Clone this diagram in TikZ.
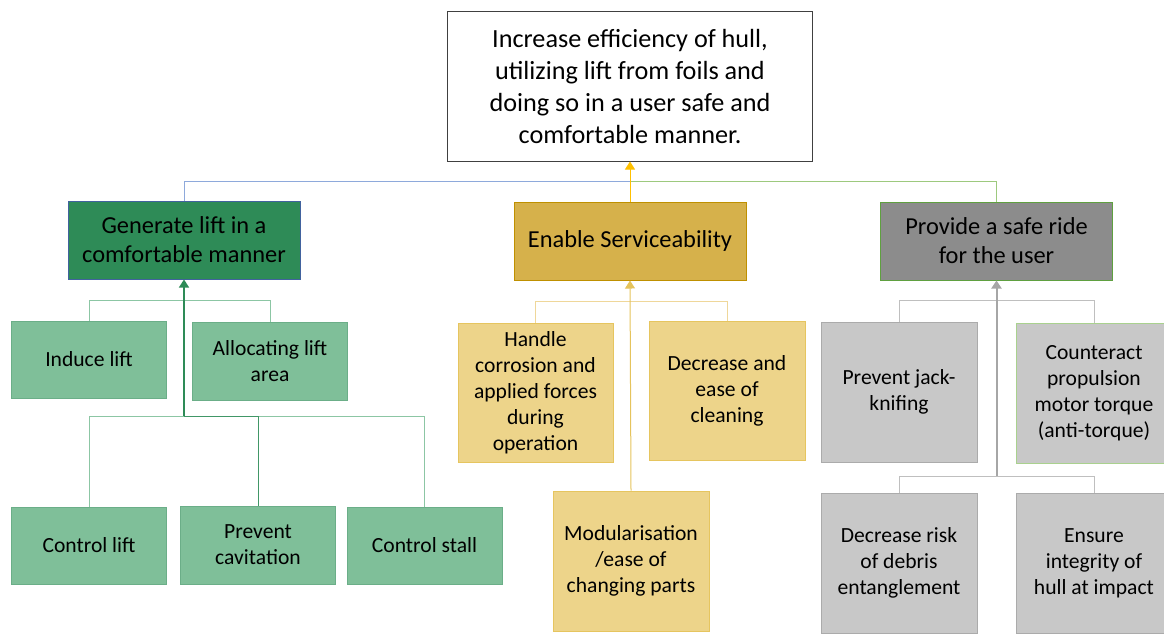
\documentclass[tikz,border=0pt]{standalone}
\usepackage{fontspec}
\setmainfont{Carlito}
\usetikzlibrary{arrows.meta}
\definecolor{topbd}{HTML}{404040}
\definecolor{genfill}{HTML}{2E8B57}
\definecolor{genbd}{HTML}{41629E}
\definecolor{enafill}{HTML}{D6B14B}
\definecolor{enabd}{HTML}{BF9000}
\definecolor{profill}{HTML}{8C8C8C}
\definecolor{probd}{HTML}{5FA040}
\definecolor{lgfill}{HTML}{7FBF99}
\definecolor{lgbd}{HTML}{6BAE88}
\definecolor{lyfill}{HTML}{EDD48A}
\definecolor{lybd}{HTML}{E6C55F}
\definecolor{lgrfill}{HTML}{C8C8C8}
\definecolor{lgrbd}{HTML}{ABABAB}
\definecolor{ctbd}{HTML}{A9D18E}
\definecolor{bluel}{HTML}{8EA9DB}
\definecolor{greenl}{HTML}{9DC97E}
\definecolor{yell}{HTML}{FFC000}
\definecolor{darkg}{HTML}{2E8B57}
\definecolor{lgline}{HTML}{8CC6A4}
\definecolor{goldl}{HTML}{E5C35C}
\definecolor{goldll}{HTML}{EFD79A}
\definecolor{grayl}{HTML}{A6A6A6}
\definecolor{grayll}{HTML}{BFBFBF}
\tikzset{
  box/.style={rectangle, draw, line width=1pt, inner sep=2pt, align=center, text=black},
  topbox/.style={box, fill=white, draw=topbd, minimum width=365pt, minimum height=150pt,
     font=\fontsize{26.2}{32}\selectfont},
  midbox/.style={box, minimum width=232pt, minimum height=78pt, font=\fontsize{24.4}{29}\selectfont},
  leaf/.style={box, minimum width=155pt, font=\fontsize{21.6}{26}\selectfont},
  gleaf/.style={leaf, fill=lgfill, draw=lgbd, minimum height=77pt},
  yleaf/.style={leaf, fill=lyfill, draw=lybd, minimum height=139pt},
  grleaf/.style={leaf, fill=lgrfill, draw=lgrbd, minimum height=140pt},
  conn/.style={line width=1pt},
  arr/.style={line width=1.5pt, -{Triangle[length=8pt,width=10pt]}}
}
\begin{document}
\begin{tikzpicture}[x=1pt,y=-1pt]
\useasboundingbox (0,0) rectangle (1164,633);
\clip (0,0) rectangle (1164,633);
% top
\node[topbox] (top) at (630,86) {Increase efficiency of hull,\\utilizing lift from foils and\\doing so in a user safe and\\comfortable manner.};
% middle
\node[midbox, fill=genfill, draw=genbd] (gen) at (184,240) {Generate lift in a\\comfortable manner};
\node[midbox, fill=enafill, draw=enabd] (ena) at (630,241) {Enable Serviceability};
\node[midbox, fill=profill, draw=probd] (pro) at (996.5,241) {Provide a safe ride\\for the user};
% green leaves
\node[gleaf] (ind) at (89,359.5) {Induce lift};
\node[gleaf, minimum height=78pt] (alo) at (270,361) {Allocating lift\\area};
\node[gleaf] (cl) at (89,545.5) {Control lift};
\node[gleaf, minimum height=78pt] (cav) at (258,545) {Prevent\\cavitation};
\node[gleaf] (cs) at (424.5,545.5) {Control stall};
% yellow leaves
\node[yleaf] (han) at (535.5,392.5) {Handle\\corrosion and\\applied forces\\during\\operation};
\node[yleaf, minimum width=156pt] (cln) at (727,390.5) {Decrease and\\ease of\\cleaning};
\node[yleaf, minimum width=156pt, minimum height=140pt] (mod) at (631,561) {Modularisation\\/ease of\\changing parts};
% gray leaves
\node[grleaf, minimum width=156pt] (jk) at (899,392) {Prevent jack-\\knifing};
\node[grleaf, minimum width=156pt, draw=ctbd] (ct) at (1094,393) {Counteract\\propulsion\\motor torque\\(anti-torque)};
\node[grleaf, minimum width=156pt] (deb) at (899,563) {Decrease risk\\of debris\\entanglement};
\node[grleaf, minimum width=156pt] (ens) at (1094,563) {Ensure\\integrity of\\hull at impact};
% bus coordinates
\coordinate (busT) at (630,181);
\coordinate (gb1) at (184,300);
\coordinate (gb2) at (184,416);
\coordinate (eb) at (630,301);
\coordinate (pb1) at (996.5,300);
\coordinate (pb2) at (996.5,476);
% top level connectors
\draw[conn, bluel] (gen.north) |- (busT);
\draw[conn, greenl] (pro.north) |- (busT);
\draw[arr, yell, line width=1pt] (ena.north) -- (top.south);
% green connectors
\draw[conn, lgline] (ind.north) |- (gb1);
\draw[conn, lgline] (alo.north) |- (gb1);
\draw[conn, lgline] (cl.north) |- (gb2);
\draw[conn, lgline] (cs.north) |- (gb2);
\draw[conn, darkg!80!lgline] (cav.north) |- (gb2);
\draw[arr, darkg] (gb2) -- (gen.south);
% yellow connectors
\draw[conn, goldll] (han.north) |- (eb);
\draw[conn, goldll] (cln.north) |- (eb);
\draw[arr, goldl, line width=1pt] (mod.north) -- (ena.south);
% gray connectors
\draw[conn, grayll] (jk.north) |- (pb1);
\draw[conn, grayll] (ct.north) |- (pb1);
\draw[conn, grayll] (deb.north) |- (pb2);
\draw[conn, grayll] (ens.north) |- (pb2);
\draw[arr, grayl, line width=2pt] (pb2) -- (pro.south);
\end{tikzpicture}
\end{document}
